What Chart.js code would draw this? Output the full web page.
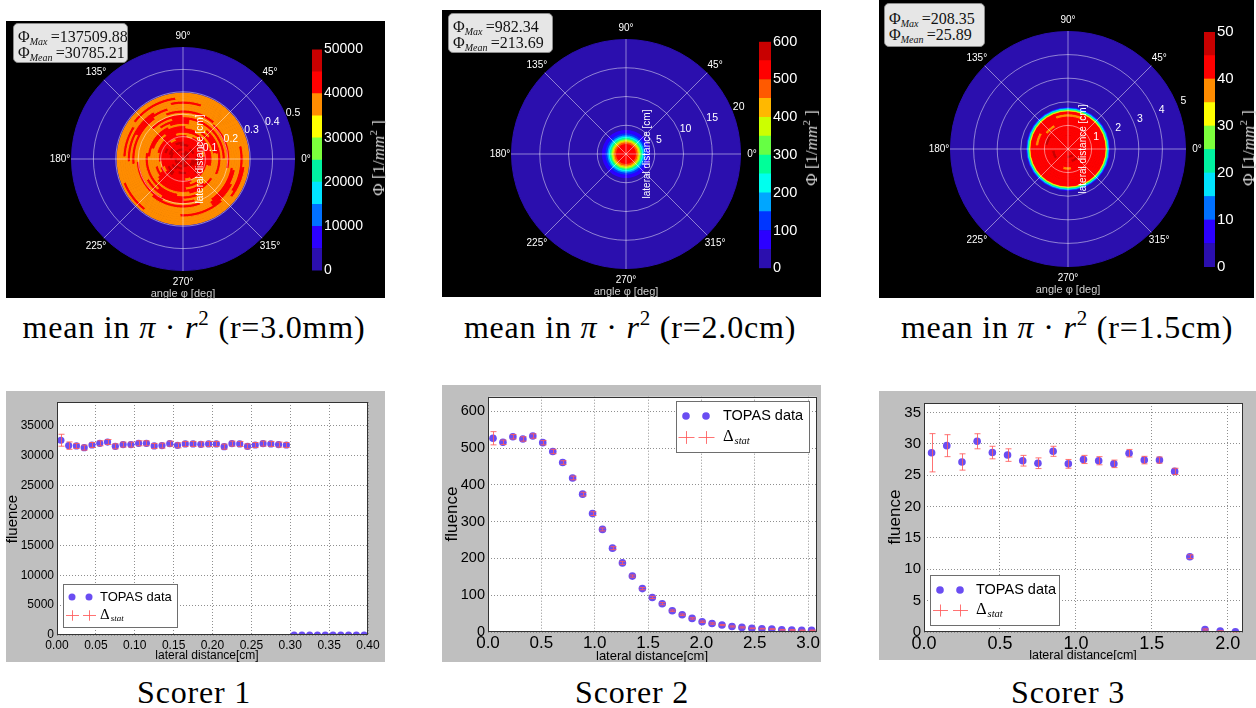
<!DOCTYPE html>
<html>
<head>
<meta charset="utf-8">
<script src="https://cdn.jsdelivr.net/npm/chart.js@4.4.1/dist/chart.umd.min.js"></script>
<style>
  body { margin: 0; width: 1256px; height: 708px; background: #fff; position: relative; overflow: hidden; }
  .black { position: absolute; background: #000; }
  .info { position: absolute; z-index: 5; box-sizing: border-box; background: #e6e6e6; border: 1px solid #8c8c8c;
          border-radius: 5px; padding: 5px 3px 0 4px; font-family: "Liberation Serif", serif; font-size: 16px;
          line-height: 15.5px; color: #111; white-space: nowrap; overflow: hidden; }
  .info sub { font-style: italic; font-size: 10px; vertical-align: -3px; line-height: 0; }
  .cbt { position: absolute; z-index: 5; color: #d6d6d6; font-family: "Liberation Serif", serif; font-size: 17px;
         white-space: nowrap; transform: translate(-50%, -50%) rotate(-90deg); }
  .cbt sup { font-size: 11px; vertical-align: 7px; line-height: 0; }
  .cap { position: absolute; font-family: "Liberation Serif", serif; font-size: 32px; line-height: 30px;
         letter-spacing: 0.8px; white-space: nowrap; transform: translateX(-50%); color: #000; }
  .cap sup { font-size: 21px; vertical-align: 13px; line-height: 0; }
</style>
</head>
<body>
<div class="black" style="left:6px;top:21px;width:379px;height:277px"></div>
<div class="black" style="left:442px;top:10px;width:379px;height:287px"></div>
<div class="black" style="left:879px;top:0px;width:375px;height:298px"></div>

<div class="info" style="left:13px;top:23px;width:115px;height:40px">Φ<sub>Max</sub>&thinsp;=137509.88<br>Φ<sub>Mean</sub>&thinsp;=30785.21</div>
<div class="info" style="left:448px;top:13px;width:105px;height:40px">Φ<sub>Max</sub>&thinsp;=982.34<br>Φ<sub>Mean</sub>&thinsp;=213.69</div>
<div class="info" style="left:884px;top:3px;width:101px;height:44px;padding-top:7px">Φ<sub>Max</sub>&thinsp;=208.35<br>Φ<sub>Mean</sub>&thinsp;=25.89</div>

<div class="cbt" style="left:379px;top:158px">Φ [1/<i>mm</i><sup>2</sup> ]</div>
<div class="cbt" style="left:812px;top:148px">Φ [1/<i>mm</i><sup>2</sup> ]</div>
<div class="cbt" style="left:1249px;top:148px">Φ [1/<i>mm</i><sup>2</sup> ]</div>

<div class="cap" style="left:194px;top:312px">mean in <i>π</i> · <i>r</i><sup>2</sup> (r=3.0mm)</div>
<div class="cap" style="left:630px;top:312px">mean in <i>π</i> · <i>r</i><sup>2</sup> (r=2.0cm)</div>
<div class="cap" style="left:1067px;top:312px">mean in <i>π</i> · <i>r</i><sup>2</sup> (r=1.5cm)</div>
<div class="cap" style="left:194px;top:677px">Scorer 1</div>
<div class="cap" style="left:632px;top:677px">Scorer 2</div>
<div class="cap" style="left:1068px;top:677px">Scorer 3</div>

<script>
const SANS = '"Liberation Sans", Arial, sans-serif';
const SERIF = '"Liberation Serif", serif';
Chart.defaults.font.family = SANS;

const angleLabels = ["90°", "45°", "0°", "315°", "270°", "225°", "180°", "135°"];

// colour levels of the colour bars (bottom to top)
const levels10 = ["#2b0fae", "#2c00ff", "#0070ff", "#00e4ff", "#00f2a0", "#7cff3c", "#ffff00", "#ff8c00", "#ff0000", "#c80000"];
const levels12 = ["#2b0fae", "#2c00ff", "#0036ff", "#00a6ff", "#00ffee", "#00ff99", "#66ff44", "#ccff00", "#ffb800", "#ff5a00", "#ff0000", "#c80000"];

// ---- heat maps: outer radius of each ring (inner -> outer), pattern of each ring, letter values
const heat1Radii = [0.01, 0.02, 0.03, 0.04, 0.05, 0.06, 0.07, 0.08, 0.09, 0.10, 0.11, 0.12, 0.13, 0.14, 0.15,
  0.16, 0.17, 0.18, 0.19, 0.20, 0.21, 0.22, 0.23, 0.24, 0.25, 0.26, 0.27, 0.28, 0.29, 0.30, 0.50];
const heat1Rings = [
  "d", "dr", "rdrd", "drrdrdrr", "rdrdrrdr", "drrrdrdrrrdr", "rrdrrdrrrdrd", "rdrrrdrrrdrr",
  "rrrdrrrrdrrrrrdrrrrdrrrr", "rrorrrrrorrrrorrrrrorrrr",
  "rrrrorrrrrrorrrrrrrorrrr", "oorrrroooorrrrrooorrrroo", "rrrooorrrrrrroooorrrrrrr", "ooooorrrroooooorrrrooooo",
  "rrroooorrrrrroooorrrrroo", "ooorrrooooooorrrrooooorr", "orrrrrooooorrrrrroooorro", "oooooorrrrooooooorrroooo",
  "rrroooooorrrrooooooorrrr", "ooooorrrooooooorrroooooo", "oorrrrooooooorrrrooooooo", "ooooooorrrroooooooorrrro",
  "rrroooooooorrrrooooooooo", "ooooorrroooooooooorrrooo", "ooorroooooooorrrrooooooo", "oooooooorrrooooooooooorr",
  "orrroooooooooorroooooooo", "oooooorroooooooooooorrro", "ooooooooooorrooooooooooo", "oooooooooooooooooooooooo",
  "b"];
const heat1Rot = [0, 30, 75, 10, 50, 95, 20, 65, 5, 40, 85, 15, 60, 100, 35, 80, 25, 70, 45, 90, 12, 55, 100, 28, 73, 18, 63, 8, 53, 98, 0];
const heat1Code = { d: 47500, r: 42500, o: 37500, b: 2500 };

const heat2Radii = [1.85, 2.15, 2.35, 2.55, 2.72, 2.9, 3.1, 3.35, 3.7, 4.3, 20];
const heat2Rings = ["r", "O", "Y", "L", "G", "S", "C", "A", "B", "V", "b"];
const heat2Code = { r: 525, O: 475, Y: 425, L: 375, G: 325, S: 275, C: 225, A: 175, B: 125, V: 75, b: 20 };

const heat3Radii = [0.1, 0.2, 0.3, 0.4, 0.5, 0.6, 0.7, 0.8, 0.9, 1.0, 1.1, 1.2, 1.3, 1.4, 1.5, 1.62,
  1.64, 1.66, 1.69, 1.72, 1.75, 1.78, 1.81, 5.0];
const heat3Rings = [
  "r", "rrrr", "rrrrrrrr", "rrrdrrrr", "rrrrrrrrrrrr", "rrdrrrrrrrrr", "rrrrrrrdrrrr", "rrrrrrrrrrrrrrrr",
  "rrrrrorrrrrrrrrr", "rrrrrrrrrrrdrrrr", "rrrrrrrrrrrrrrrr", "rrrrrrrrrrrrrorr", "rrrrrrrrrrrrrrrr",
  "rrrrrrrrrrrorrrr", "rrrrrrrrrrrroorr", "rrrrrrrrrrrrrrrr",
  "o", "y", "g", "s", "c", "a", "u", "b"];
const heat3Rot = [0, 20, 55, 10, 40, 75, 25, 5, 60, 35, 80, 15, 50, 30, 70, 45, 0, 0, 0, 0, 0, 0, 0, 0];
const heat3Code = { d: 47.5, r: 42.5, o: 37.5, y: 32.5, g: 27.5, s: 22.5, c: 17.5, a: 12.5, u: 7.5, b: 2 };

const heat1Ticks = [0, 0.1, 0.2, 0.3, 0.4, 0.5];
const heat2Ticks = [0, 5, 10, 15, 20];
const heat3Ticks = [0, 1, 2, 3, 4, 5];

const bar1Ticks = [0, 10000, 20000, 30000, 40000, 50000];
const bar2Ticks = [0, 100, 200, 300, 400, 500, 600];
const bar3Ticks = [0, 10, 20, 30, 40, 50];

// ---- lateral profiles
const s1X = [0.005, 0.015, 0.025, 0.035, 0.045, 0.055, 0.065, 0.075, 0.085, 0.095, 0.105, 0.115, 0.125, 0.135,
  0.145, 0.155, 0.165, 0.175, 0.185, 0.195, 0.205, 0.215, 0.225, 0.235, 0.245, 0.255, 0.265, 0.275, 0.285, 0.295,
  0.305, 0.315, 0.325, 0.335, 0.345, 0.355, 0.365, 0.375, 0.385, 0.395];
const s1Y = [32600, 31700, 31640, 31360, 31800, 32090, 32300, 31580, 31870, 31870, 32090, 32090, 31640, 31700,
  32030, 31750, 31980, 31980, 31920, 31980, 31980, 31530, 32030, 31980, 31580, 31800, 32030, 31980, 31870, 31800,
  0, 0, 0, 0, 0, 0, 0, 0, 0, 0];
const s1Err = [1000, 620, 420, 420, 420, 420, 420, 420, 420, 420, 420, 420, 420, 420, 420, 420, 420, 420, 420, 420,
  420, 420, 420, 420, 420, 420, 420, 420, 420, 420, 0, 0, 0, 0, 0, 0, 0, 0, 0, 0];
const s1XTicks = [0, 0.05, 0.1, 0.15, 0.2, 0.25, 0.3, 0.35, 0.4];
const s1YTicks = [0, 5000, 10000, 15000, 20000, 25000, 30000, 35000];

const s2X = [0.047, 0.140, 0.233, 0.327, 0.420, 0.513, 0.607, 0.700, 0.793, 0.887, 0.980, 1.073, 1.167, 1.260,
  1.353, 1.447, 1.540, 1.633, 1.727, 1.820, 1.913, 2.007, 2.100, 2.193, 2.287, 2.380, 2.473, 2.567, 2.660, 2.753,
  2.847, 2.940, 3.033];
const s2Y = [527, 516, 531, 525, 533, 515, 491, 461, 419, 375, 322, 279, 228, 188, 152, 118, 94, 77, 58, 47, 37,
  28, 23, 19, 15, 12.5, 10, 9, 8, 6, 5.5, 4.5, 4.5];
const s2Err = [18, 6, 6, 6, 6, 6, 6, 5, 5, 5, 5, 4, 4, 4, 3, 3, 3, 3, 2, 2, 2, 2, 2, 1.5, 1.5, 1.5, 1, 1, 1, 1, 1, 1, 1];
const s2XTicks = [0, 0.5, 1, 1.5, 2, 2.5, 3];
const s2YTicks = [0, 100, 200, 300, 400, 500, 600];

const s3X = [0.05, 0.15, 0.25, 0.35, 0.45, 0.55, 0.65, 0.75, 0.85, 0.95, 1.05, 1.15, 1.25, 1.35, 1.45, 1.55,
  1.65, 1.75, 1.85, 1.95, 2.05];
const s3Y = [28.57, 29.7, 27.1, 30.4, 28.6, 28.2, 27.3, 26.9, 28.8, 26.8, 27.5, 27.3, 26.8, 28.5, 27.4, 27.4,
  25.6, 12.0, 0.4, 0.15, 0.05];
const s3Err = [3.05, 1.75, 1.3, 1.2, 1.0, 1.0, 0.85, 0.85, 0.8, 0.7, 0.65, 0.65, 0.6, 0.6, 0.6, 0.5, 0.5, 0.3,
  0.1, 0.05, 0.02];
const s3XTicks = [0, 0.5, 1, 1.5, 2];
const s3YTicks = [0, 5, 10, 15, 20, 25, 30, 35];

const PAD = 40;
const GRID = "rgba(255,255,255,0.6)";
const PURPLE = "#6a4df2";
const ERR = "rgba(255,90,90,0.85)";
const base = { animation: false, responsive: false, events: [] };
const quiet = { legend: { display: false }, tooltip: { enabled: false } };

function addCanvas(x, y, w, h) {
  const c = document.createElement("canvas");
  c.width = w;
  c.height = h;
  c.style.cssText = `position:absolute;left:${x}px;top:${y}px;width:${w}px;height:${h}px`;
  document.body.appendChild(c);
  return c;
}

function levelColor(v, max, levels) {
  const i = Math.floor((v / max) * levels.length);
  return levels[Math.max(0, Math.min(levels.length - 1, i))];
}

function setTicks(list) {
  return (axis) => {
    axis.ticks = list.map((value) => ({ value }));
  };
}

function polarText(p) {
  return {
    id: "polarText",
    afterDraw(chart) {
      const s = chart.scales.r;
      const ctx = chart.ctx;
      ctx.save();
      ctx.fillStyle = "#fff";
      ctx.textAlign = "center";
      ctx.textBaseline = "middle";
      ctx.font = `10px ${SANS}`;
      angleLabels.forEach((t, i) => {
        const q = s.getPointPosition(i, s.drawingArea + 11);
        ctx.fillText(t, q.x, q.y);
      });
      ctx.font = `10.5px ${SANS}`;
      p.ticks.slice(1).forEach((v) => {
        const q = s.getPointPosition(1.5, s.getDistanceFromCenterForValue(v) + 7);
        ctx.fillText(String(v), q.x, q.y);
      });
      ctx.fillStyle = "#cfcfcf";
      ctx.font = `11px ${SANS}`;
      ctx.fillText("angle φ [deg]", s.xCenter, s.yCenter + s.drawingArea + 23);
      ctx.translate(s.xCenter + p.nameDx, s.yCenter);
      ctx.rotate(-Math.PI / 2);
      ctx.fillStyle = "#fff";
      ctx.font = `10px ${SANS}`;
      ctx.fillText("lateral distance [cm]", 0, 0);
      ctx.restore();
    },
  };
}

function polarPanel(p) {
  const size = 2 * p.R + 2 * PAD;
  const x = p.cx - p.R - PAD;
  const y = p.cy - p.R - PAD;
  const heat = addCanvas(x, y, size, size);
  const grid = addCanvas(x, y, size, size);
  const rMax = p.ticks[p.ticks.length - 1];

  const datasets = [];
  for (let i = p.radii.length - 1; i >= 0; i--) {
    const inner = i ? p.radii[i - 1] : 0;
    const cols = p.rings[i].split("").map((ch) => levelColor(p.code[ch], p.barMax, p.levels));
    datasets.push({
      data: cols.map(() => 1),
      backgroundColor: cols,
      borderColor: cols,
      borderWidth: 1,
      weight: p.radii[i] - inner,
      rotation: p.rot ? p.rot[i] : 0,
    });
  }
  new Chart(heat, {
    type: "doughnut",
    data: { datasets },
    options: { ...base, cutout: 0, layout: { padding: PAD }, plugins: quiet },
  });

  new Chart(grid, {
    type: "radar",
    data: { labels: angleLabels, datasets: [{ data: [], pointRadius: 0, borderWidth: 0 }] },
    options: {
      ...base,
      layout: { padding: PAD },
      plugins: quiet,
      scales: {
        r: {
          min: 0,
          max: rMax,
          afterBuildTicks: setTicks(p.ticks),
          ticks: { display: false },
          pointLabels: { display: false },
          grid: {
            circular: true,
            lineWidth: 0.8,
            color: (c) => (c.tick && c.tick.value < rMax - 1e-9 ? GRID : "rgba(0,0,0,0)"),
          },
          angleLines: { color: GRID, lineWidth: 0.8 },
        },
      },
    },
    plugins: [polarText(p)],
  });
}

function colorBar(b) {
  const [l, t, r, btm] = b.rect;
  const c = addCanvas(l, t - 10, r - l + 60, btm - t + 20);
  const step = b.ticks[b.ticks.length - 1] / b.levels.length;
  new Chart(c, {
    type: "bar",
    data: {
      labels: [""],
      datasets: b.levels.map((col) => ({
        data: [step], backgroundColor: col, borderWidth: 0, barPercentage: 1, categoryPercentage: 1,
      })),
    },
    options: {
      ...base,
      layout: { padding: { top: 10, bottom: 10, left: 0, right: 0 } },
      plugins: quiet,
      scales: {
        x: { stacked: true, display: false },
        y: {
          stacked: true,
          position: "right",
          min: 0,
          max: b.ticks[b.ticks.length - 1],
          afterBuildTicks: setTicks(b.ticks),
          afterFit: (s) => { s.width = 60; },
          ticks: { color: "#fff", font: { size: b.font }, padding: 2, callback: (v) => String(v) },
          grid: { display: false, drawTicks: false },
          border: { display: false },
        },
      },
    },
  });
}

function profilePlugins(p) {
  return {
    id: "profileExtras",
    beforeDraw(chart) {
      const a = chart.chartArea;
      chart.ctx.save();
      chart.ctx.fillStyle = "#fff";
      chart.ctx.fillRect(a.left, a.top, a.right - a.left, a.bottom - a.top);
      chart.ctx.restore();
    },
    afterDatasetsDraw(chart) {
      const ctx = chart.ctx;
      const xs = chart.scales.x;
      const ys = chart.scales.y;
      ctx.save();
      ctx.strokeStyle = ERR;
      ctx.lineWidth = 1;
      p.x.forEach((xv, i) => {
        const e = p.err[i];
        if (!e) return;
        const px = Math.round(xs.getPixelForValue(xv)) + 0.5;
        const y1 = ys.getPixelForValue(p.y[i] - e);
        const y2 = ys.getPixelForValue(p.y[i] + e);
        ctx.beginPath();
        ctx.moveTo(px, y1); ctx.lineTo(px, y2);
        ctx.moveTo(px - 3, y1); ctx.lineTo(px + 3, y1);
        ctx.moveTo(px - 3, y2); ctx.lineTo(px + 3, y2);
        ctx.stroke();
      });
      ctx.restore();
    },
    afterDraw(chart) {
      const ctx = chart.ctx;
      const a = chart.chartArea;
      const ox = p.box[0];
      const oy = p.box[1];
      ctx.save();
      ctx.strokeStyle = "#333";
      ctx.lineWidth = 1;
      ctx.strokeRect(Math.round(a.left) + 0.5, Math.round(a.top) + 0.5,
        Math.round(a.right - a.left) - 1, Math.round(a.bottom - a.top) - 1);

      // axis titles
      ctx.fillStyle = "#000";
      ctx.textAlign = "center";
      ctx.textBaseline = "middle";
      ctx.font = `${p.xTitleFont}px ${SANS}`;
      ctx.fillText("lateral distance[cm]", p.xTitle[0] - ox, p.xTitle[1] - oy);
      ctx.save();
      ctx.translate(p.yTitle[0] - ox, p.yTitle[1] - oy);
      ctx.rotate(-Math.PI / 2);
      ctx.font = `${p.yTitleFont}px ${SANS}`;
      ctx.fillText("fluence", 0, 0);
      ctx.restore();

      // legend
      const L = p.legend;
      ctx.fillStyle = "#fff";
      ctx.fillRect(L.box[0] - ox, L.box[1] - oy, L.box[2] - L.box[0], L.box[3] - L.box[1]);
      ctx.strokeStyle = "#6e6e6e";
      ctx.strokeRect(L.box[0] - ox + 0.5, L.box[1] - oy + 0.5, L.box[2] - L.box[0] - 1, L.box[3] - L.box[1] - 1);
      L.marks.forEach((mx) => {
        ctx.fillStyle = PURPLE;
        ctx.beginPath();
        ctx.arc(mx - ox, L.rows[0] - oy, L.dot, 0, Math.PI * 2);
        ctx.fill();
        ctx.strokeStyle = ERR;
        ctx.beginPath();
        const cx = Math.round(mx - ox) + 0.5;
        const cy = Math.round(L.rows[1] - oy) + 0.5;
        ctx.moveTo(cx - L.arm, cy); ctx.lineTo(cx + L.arm, cy);
        ctx.moveTo(cx, cy - L.arm * 0.8); ctx.lineTo(cx, cy + L.arm * 0.8);
        ctx.stroke();
      });
      ctx.fillStyle = "#000";
      ctx.textAlign = "left";
      ctx.font = `${L.font}px ${SANS}`;
      ctx.fillText("TOPAS data", L.textX - ox, L.rows[0] - oy);
      ctx.font = `${L.font + 2}px ${SERIF}`;
      ctx.fillText("Δ", L.textX - ox, L.rows[1] - oy);
      const dw = ctx.measureText("Δ").width;
      ctx.font = `italic ${L.font - 4}px ${SERIF}`;
      ctx.fillText("stat", L.textX - ox + dw + 1, L.rows[1] - oy + 4);
      ctx.restore();
    },
  };
}

function profile(p) {
  const [bl, bt, br, bb] = p.box;
  const [pl, pt, pr, pb] = p.plot;
  const c = addCanvas(bl, bt, br - bl, bb - bt);
  c.style.background = "#bfbfbf";
  const tickFont = (size) => ({ size, family: SANS });
  new Chart(c, {
    type: "scatter",
    data: {
      datasets: [{
        data: p.x.map((x, i) => ({ x, y: p.y[i] })),
        pointRadius: p.dot,
        backgroundColor: PURPLE,
        borderWidth: 0,
      }],
    },
    options: {
      ...base,
      layout: { padding: { top: pt - bt, right: br - pr, left: 0, bottom: 0 } },
      plugins: quiet,
      scales: {
        x: {
          type: "linear",
          min: 0,
          max: p.xMax,
          afterBuildTicks: setTicks(p.xTicks),
          afterFit: (s) => { s.height = bb - pb; },
          ticks: { callback: (v) => v.toFixed(p.xDec), color: "#000", font: tickFont(p.xFont), padding: p.xPad, maxRotation: 0, autoSkip: false },
          grid: { color: "#8f8f8f", lineWidth: 1, drawTicks: false },
          border: { display: false, dash: [1, 2] },
        },
        y: {
          min: 0,
          max: p.yMax,
          afterBuildTicks: setTicks(p.yTicks),
          afterFit: (s) => { s.width = pl - bl; },
          ticks: { color: "#000", font: tickFont(p.yFont), padding: 3, callback: (v) => String(v) },
          grid: { color: "#8f8f8f", lineWidth: 1, drawTicks: false },
          border: { display: false, dash: [1, 2] },
        },
      },
    },
    plugins: [profilePlugins(p)],
  });
}

// ---- top row
polarPanel({ cx: 183, cy: 159, R: 112, radii: heat1Radii, rings: heat1Rings, rot: heat1Rot, code: heat1Code,
  levels: levels10, barMax: 50000, ticks: heat1Ticks, nameDx: 17 });
polarPanel({ cx: 626, cy: 154, R: 115, radii: heat2Radii, rings: heat2Rings, code: heat2Code,
  levels: levels12, barMax: 600, ticks: heat2Ticks, nameDx: 21 });
polarPanel({ cx: 1068, cy: 149, R: 118, radii: heat3Radii, rings: heat3Rings, rot: heat3Rot, code: heat3Code,
  levels: levels10, barMax: 50, ticks: heat3Ticks, nameDx: 15 });

colorBar({ rect: [312, 49, 322, 271], levels: levels10, ticks: bar1Ticks, font: 14 });
colorBar({ rect: [759, 41, 771, 269], levels: levels12, ticks: bar2Ticks, font: 14.5 });
colorBar({ rect: [1204, 31, 1215, 268], levels: levels10, ticks: bar3Ticks, font: 15 });

// ---- bottom row
profile({ box: [6, 391, 385, 662], plot: [57, 402, 368, 635], x: s1X, y: s1Y, err: s1Err,
  xMax: 0.4, yMax: 39000, xTicks: s1XTicks, yTicks: s1YTicks, xDec: 2, xFont: 12, yFont: 12, xPad: 3, dot: 3.6,
  xTitle: [207, 656], xTitleFont: 12, yTitle: [13, 519], yTitleFont: 15,
  legend: { box: [63, 584, 178, 628], marks: [72, 89], rows: [597, 615], textX: 100, font: 13, dot: 3.5, arm: 6.5 } });
profile({ box: [442, 385, 821, 662], plot: [488, 394, 818, 632], x: s2X, y: s2Y, err: s2Err,
  xMax: 3.08, yMax: 640, xTicks: s2XTicks, yTicks: s2YTicks, xDec: 1, xFont: 17, yFont: 14.5, xPad: 1, dot: 3.8,
  xTitle: [652, 656], xTitleFont: 13, yTitle: [452, 514], yTitleFont: 17,
  legend: { box: [676, 401, 810, 453], marks: [686, 706], rows: [416, 437], textX: 723, font: 14.5, dot: 3.8, arm: 8 } });
profile({ box: [879, 391, 1256, 660], plot: [924, 402, 1243, 632], x: s3X, y: s3Y, err: s3Err,
  xMax: 2.1, yMax: 36.5, xTicks: s3XTicks, yTicks: s3YTicks, xDec: 1, xFont: 18, yFont: 15, xPad: 1, dot: 3.8,
  xTitle: [1083, 656], xTitleFont: 12.5, yTitle: [895, 517], yTitleFont: 17,
  legend: { box: [930, 575, 1060, 626], marks: [940, 960], rows: [590, 610], textX: 976, font: 14.5, dot: 3.8, arm: 7.5 } });
</script>
</body>
</html>
